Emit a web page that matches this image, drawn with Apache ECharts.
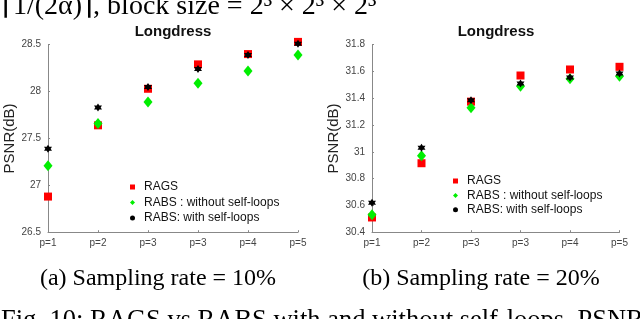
<!DOCTYPE html>
<html><head><meta charset="utf-8">
<script src="https://cdn.jsdelivr.net/npm/echarts@6/dist/echarts.min.js"></script>
<style>html,body{margin:0;padding:0;background:#fff}#c{width:640px;height:319px}</style>
</head><body><div id="c"></div>
<script>
const categories = ['p=1','p=2','p=3','p=3','p=4','p=5'];
const ragsA = [26.88, 27.64, 28.03, 28.29, 28.40, 28.53];
const rabsNoA = [27.21, 27.66, 27.89, 28.09, 28.22, 28.39];
const rabsSelfA = [27.39, 27.83, 28.05, 28.24, 28.39, 28.51];
const ragsB = [30.51, 30.915, 31.375, 31.57, 31.615, 31.635];
const rabsNoB = [30.53, 30.97, 31.33, 31.49, 31.545, 31.565];
const rabsSelfB = [30.62, 31.03, 31.385, 31.51, 31.555, 31.585];
const names = ['RAGS', 'RABS : without self-loops', 'RABS: with self-loops'];

const star = 'path://M0,-10 L2.9,-5 L8.66,-5 L5.77,0 L8.66,5 L2.9,5 L0,10 L-2.9,5 L-8.66,5 L-5.77,0 L-8.66,-5 L-2.9,-5 Z';
const styles = [
  {symbol:'rect', size:[8,8], color:'#ff0000'},
  {symbol:'diamond', size:[9,11], color:'#00ee00'},
  {symbol:star, size:[8,8], color:'#000000'}
];
const chart = echarts.init(document.getElementById('c'));
function mkX(i){return {type:'value', gridIndex:i, min:0, max:5, interval:1,
  axisLine:{show:true, onZero:false, lineStyle:{color:'#888', width:1}},
  axisTick:{show:true, inside:true, length:2, lineStyle:{color:'#888'}},
  splitLine:{show:false},
  axisLabel:{formatter:v=>categories[v], fontSize:10, color:'#444', margin:6, fontFamily:'Liberation Sans'}};}
function mkY(i,min,max,interval,fmt){return {type:'value', gridIndex:i, min:min, max:max, interval:interval,
  name:'PSNR(dB)', nameLocation:'middle', nameGap: i===0?28:31, nameTextStyle:{fontSize:15, color:'#222', fontFamily:'Liberation Sans'},
  axisLine:{show:true, lineStyle:{color:'#888', width:1}},
  axisTick:{show:true, inside:true, length:2, lineStyle:{color:'#888'}},
  splitLine:{show:false},
  axisLabel:{formatter:fmt, fontSize:10, color:'#444', margin:7, fontFamily:'Liberation Sans'}};}
const dataA=[ragsA,rabsNoA,rabsSelfA], dataB=[ragsB,rabsNoB,rabsSelfB];
const series=[];
[dataA,dataB].forEach((d,gi)=>{
  d.forEach((arr,si)=>{
    series.push({type:'scatter', name:names[si], xAxisIndex:gi, yAxisIndex:gi, clip:false,
      symbol:styles[si].symbol, symbolSize:styles[si].size,
      itemStyle:{color:styles[si].color, opacity:1},
      data:arr.map((v,k)=>[k,v]), z: si===2?5:(si===0?3:4)});
  });
});
const legIcons = ['rect','diamond','circle'];
function mkLegend(left, top, gap){
  return {orient:'vertical', left:left, top:top, itemGap:gap, itemWidth:5, itemHeight:5,
    data:names.map((n,i)=>({name:n, icon:legIcons[i]})),
    textStyle:{fontSize:12, color:'#111', padding:[0,0,0,4]}, selectedMode:false};
}
chart.setOption({
  animation:false,
  textStyle:{fontFamily:'Liberation Sans'},
  title:[
    {text:'Longdress', left:168, top:19, textAlign:'center', textStyle:{fontSize:15, fontWeight:'bold', color:'#111'}},
    {text:'Longdress', left:491, top:19, textAlign:'center', textStyle:{fontSize:15, fontWeight:'bold', color:'#111'}}
  ],
  grid:[
    {left:48, top:44.7, width:250, height:187.5},
    {left:372, top:44.7, width:247.5, height:187.5}
  ],
  xAxis:[mkX(0), mkX(1)],
  yAxis:[mkY(0,26.5,28.5,0.5,v=>String(+v.toFixed(1))), mkY(1,30.4,31.8,0.2,v=>v.toFixed(1).replace(/\.0$/,''))],
  legend:[mkLegend(125, 176, 3.5), mkLegend(448, 170, 2.4)],
  graphic:[
    {type:'text', x:158, y:279, style:{text:'(a) Sampling rate = 10%', font:'24px "Liberation Serif"', fill:'#000', textAlign:'center', textVerticalAlign:'middle'}},
    {type:'text', x:481, y:279, style:{text:'(b) Sampling rate = 20%', font:'24px "Liberation Serif"', fill:'#000', textAlign:'center', textVerticalAlign:'middle'}},
    {type:'text', x:2, y:21, style:{text:'\u23081/(2\u03b1)\u2309, block size = 2\u00b3 \u00d7 2\u00b3 \u00d7 2\u00b3', font:'28px "Liberation Serif"', fill:'#000', textVerticalAlign:'bottom'}},
    {type:'text', x:1, y:335, style:{text:'Fig. 10: RAGS vs RABS with and without self-loops. PSNR', font:'26.5px "Liberation Serif"', fill:'#000', textVerticalAlign:'bottom'}}
  ],
  series:series
});
</script></body></html>
